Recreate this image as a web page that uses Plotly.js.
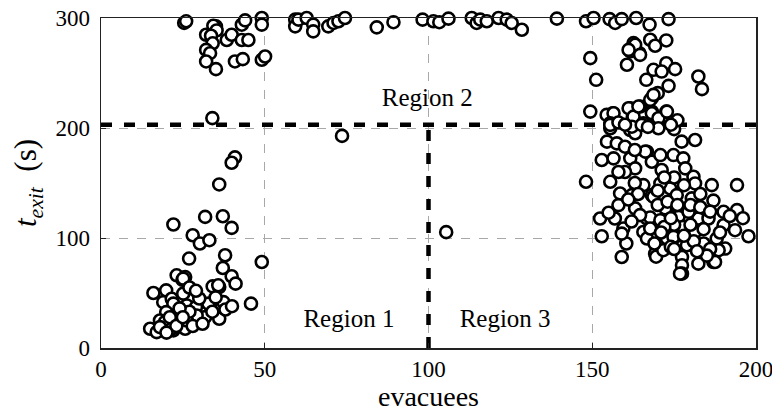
<!DOCTYPE html>
<html>
<head>
<meta charset="utf-8">
<script src="https://cdn.plot.ly/plotly-3.0.1.min.js"></script>
<style>
  html, body { margin: 0; padding: 0; background: #fff; }
  #chart { width: 772px; height: 412px; }
</style>
</head>
<body>
<div id="chart"></div>
<script>
// Evacuees vs. exit time, one point per run
// Low group: few evacuees, short exit times
const lowEvac = [40.9,39.9,36.1,31.8,37.2,39.9,22.1,28,30.2,33.1,26.9,37.9,37.2,49.1,39.9,41.1,23.1,25.7,34.1,36.1,16,19.9,19,21.6,22.1,26.2,25.1,29,33.3,37.4,45.8,36.1,31.8,29.2,23.1,19.9,15,17,25.7,22.1,26.2,19.9,18,24.9,25.1,35.8,32.8,19.5,21.6,27,24,21,28,34,38,30,27,23,18,20,25,31,35,40,29];
const lowExit = [173.3,168.4,148.7,119.2,119.8,109.2,112.3,102.5,95,98,81.3,84.3,72.7,78.2,65.2,58.5,66.1,64.5,56,55.4,50,52.4,41.7,44.8,40.3,38.7,49.4,37.2,38.7,41.7,40.3,26.6,28.1,29.6,29.6,22.6,17.5,14.4,17.5,16,25,32.6,25,62,63.1,57,40.3,23.5,17.5,33,36,28,20,33,35,45,55,20,19,14,28,22,46,38,52];

// Runs that hit the time cap or came close to it
const capEvac = [25.4,26.0,35.1,34.3,35.3,32.1,33.6,34.1,32.1,33.3,32.1,35.1,38.4,39.9,43,45,43,44,49.1,49.1,49.1,50.1,40.9,43.3,34,
  59.3,59.3,60.3,62.8,64.8,64.8,69.4,71,72.5,74.5,84.2,89.3,98.2,101.5,103.3,106.1,113.2,114.7,115.8,117.8,121.4,123.9,125.4,128.5,139.2,
  73.6,105.4];
const capExit = [295.5,297,292.4,293,288.7,284.8,283.9,277,271,268,260.5,253.5,280,284.8,280,280,293.9,297.8,300,294,262,265,260.5,262.6,209,
  298.5,292.4,298.5,300,294,287.8,292.4,295.5,297,300,291.5,296.2,298.5,297,296.2,299.4,300,295.5,298.5,297,300,298.5,295.5,289.3,299.4,
  192.8,105.3];

// High group: many evacuees
const highEvac = [148.1,150.4,155.3,157,159,163.4,167.5,173.3,149.4,151.2,149.4,156.3,162.6,161.6,164.4,160.6,167.7,169.2,172.6,172.6,175.3,168.7,171.2,166.5,173.3,182.4,183.5,170,168.2,161.6,164.6,168.2,172.6,162.4,170,163.1,161.1,164.6,
  154.4,156.5,155.5,155.5,161.1,162.6,164.1,165.6,167.7,168.7,168.2,170.2,172.8,170.2,161.6,163.1,155.5,162.1,165.1,167,175,176,158,160,174,
  154.5,157.5,152.9,156.5,161.6,166.7,163.1,168.2,171.2,148.1,155.5,158.5,162.1,168.2,165.6,158,163.1,152.4,156.9,159.5,166.7,165.6,152.9,159,160.4,159,166.7,169.2,169.5,171.7,167.7,170.8,172.8,168.7,173.8,175.8,170.8,170.8,174.8,177.8,177.3,181.4,178.4,180.9,181.4,180.4,186.5,194.2,175.8,178.9,182.4,185.5,190.1,194.2,190.1,193.6,197.7,188,190.6,187,182.4,177.4,177.4,177.4,175.3,178.9,181.4,184,172.8,167.7,164.6,
  166.2,172.3,176.3,179.4,174.8,177.8,188.6,176.8,187.5,
  170,173,176,180,183,175,180,184,172,169,174,181,186,185,163,160,175,178,172,183,187,186,160,163,158,164,161,162,155,170,174,178,182,171,175,189,196,192];
const highExit = [297,300,299,295.5,299,300,294,299,263.5,243.8,214.9,213.4,277.2,269.6,268,257.5,280.2,274.8,279.6,258.9,253.5,252.9,251.3,243.8,238.3,246.8,235.3,231.7,227.1,218,219.5,214.9,214.9,210.3,207.3,275.7,271,266.5,
  211.9,213.4,204.3,199.8,218,210.3,219.5,204.3,225.6,230.1,213.4,208.9,214.9,199.8,198.2,195.2,202.8,201.2,202.8,201,199,207,205,203,203,
  187.6,186,170.9,172.4,172.4,178.4,163.3,169.3,161.8,151.1,151.1,140.5,139,139,148.1,129.9,126.9,117.7,117.7,108.6,117.7,105.5,101.6,82.7,95,104,99.5,85.8,83,88.9,118.6,116.2,125.3,137.4,145.1,139,149.6,175.4,175.4,172.4,187.6,189.1,163.3,155.7,149.6,136,148.1,148.1,119.2,125.3,117.7,117.7,123.8,125.3,111.6,107.1,101.6,99.5,90.4,78.2,76.7,82.7,75.2,67.6,101,93.4,105.5,95,99.5,108.6,120.8,
  178.5,126.9,119.2,123.8,101,110.1,88.9,67.6,78.2,
  130,133,130,130,128,112,112,108,110,95,92,97,90,84,150,160,155,148,155,140,134,124,183,180,160,140,135,115,123,143,118,102,88,105,90,105,118,120];

// Region boundaries
const splitEvac = 100;
const splitExit = 203;
const xRange = [0, 200];
const yRange = [0, 300];
const xTicks = [0, 50, 100, 150, 200];
const yTicks = [0, 100, 200, 300];
const regionNames = ['Region 1', 'Region 2', 'Region 3'];
const regionEvac = [75.7, 99.6, 123.4];
const regionExit = [25, 225.6, 25];

const serif = 'Liberation Serif, DejaVu Serif, serif';
const boundaryLine = { color: '#000', width: 4.5, dash: '11px,12px' };
const openCircle = { symbol: 'circle', size: 12, color: '#fff', line: { color: '#000', width: 2.6 } };

const traces = [
  { x: xRange, y: [splitExit, splitExit], mode: 'lines', line: boundaryLine, hoverinfo: 'skip' },
  { x: [splitEvac, splitEvac], y: [yRange[0], splitExit], mode: 'lines', line: boundaryLine, hoverinfo: 'skip' },
  { x: lowEvac.concat(capEvac, highEvac), y: lowExit.concat(capExit, highExit),
    mode: 'markers', marker: openCircle, cliponaxis: false },
  { x: regionEvac, y: regionExit, mode: 'text', text: regionNames,
    textfont: { family: serif, size: 25, color: '#000' }, cliponaxis: false }
];

const axisCommon = {
  showline: true, mirror: true, linecolor: '#222', linewidth: 1.5,
  ticks: 'inside', ticklen: 5, tickcolor: '#222', tickwidth: 1,
  showgrid: true, gridcolor: '#a8a8a8', gridwidth: 1, griddash: 'dash',
  zeroline: false, ticklabeloverflow: 'allow',
  tickfont: { family: serif, size: 23, color: '#000' }
};

const layout = {
  width: 772, height: 412,
  margin: { l: 101, r: 16, t: 18, b: 64 },
  paper_bgcolor: '#fff', plot_bgcolor: '#fff',
  showlegend: false,
  xaxis: Object.assign({}, axisCommon, {
    range: xRange, tickvals: xTicks, ticklabelstandoff: 0,
    title: { text: 'evacuees', font: { family: serif, size: 28, color: '#000' }, standoff: 5 }
  }),
  yaxis: Object.assign({}, axisCommon, {
    range: yRange, tickvals: yTicks, ticklabelstandoff: 5,
    title: { text: '<i>t</i><sub><i>exit</i></sub>  (s)', font: { family: serif, size: 31, color: '#000' }, standoff: 9 }
  })
};

Plotly.newPlot('chart', traces, layout, { staticPlot: true, displayModeBar: false });
</script>
</body>
</html>
